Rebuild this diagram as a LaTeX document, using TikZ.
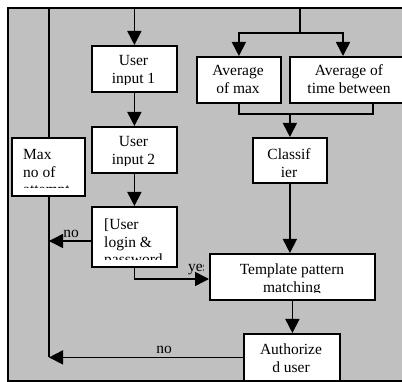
\documentclass[tikz,border=0pt]{standalone}
\usepackage{fontspec}
\setmainfont{Liberation Serif}
\usetikzlibrary{arrows.meta}
\definecolor{bg}{RGB}{192,192,192}
\begin{document}
\begin{tikzpicture}[x=1pt,y=-1pt,
  box/.style={draw, fill=white, line width=1.8pt, inner sep=0pt, anchor=north west},
  conn/.style={line width=1.6pt},
  arr/.style={conn, -{Triangle[length=14pt,width=14pt]}},
  txt/.style={font=\fontsize{15.5}{17.7}\selectfont, inner sep=0pt, anchor=base, align=center},
  ltxt/.style={txt, align=left, anchor=base west},
  lbl/.style={font=\fontsize{15.5}{17.7}\selectfont, inner sep=0pt, anchor=base}]
\useasboundingbox (0,0) rectangle (402,382);
\draw[fill=bg, line width=1.2pt] (8,8) rectangle (412,381);

% boxes
\node[box, minimum width=85pt, minimum height=46pt] (ui1) at (91,45) {};
\node[box, minimum width=85pt, minimum height=46pt] (ui2) at (91,126) {};
\node[box, minimum width=73pt, minimum height=58pt] (max) at (11,137.5) {};
\node[box, minimum width=85pt, minimum height=60pt] (login) at (91,206) {};
\node[box, minimum width=84pt, minimum height=46pt] (avgmax) at (196,56) {};
\node[box, minimum width=120pt, minimum height=46pt] (avgtime) at (289,56) {};
\node[box, minimum width=74pt, minimum height=45pt] (cls) at (252,137) {};
\node[box, minimum width=165pt, minimum height=46pt] (tpm) at (209,253) {};
\node[box, minimum width=96pt, minimum height=47pt] (auth) at (243,333) {};

% texts (anchor = baseline of the last line)
\begin{scope}
\clip (93,47) rectangle (173,85);
\node[txt] (t-ui1) at (133.5,83.5) {User\\input 1};
\end{scope}
\begin{scope}
\clip (93,128) rectangle (173,166);
\node[txt] (t-ui2) at (133.5,164.5) {User\\input 2};
\end{scope}
\begin{scope}
\clip (13,139) rectangle (82,188);
\node[ltxt] (t-max) at (23,195) {Max\\no of\\attempt};
\end{scope}
\begin{scope}
\clip (93,208) rectangle (173,259.5);
\node[ltxt] (t-login) at (104,264.8) {[User\\login \&\\password};
\end{scope}
\node[txt] (t-avgmax) at (238,93.5) {Average\\of max};
\node[txt] (t-avgtime) at (349,93.5) {Average of\\time between};
\node[txt] (t-cls) at (289,177.5) {Classif\\ier};
\begin{scope}
\clip (211,255) rectangle (372,293);
\node[txt] (t-tpm) at (292,292.5) {Template pattern\\matching};
\end{scope}
\node[txt] (t-auth) at (291,372.5) {Authorize\\d user};

% coordinates
\coordinate (vl) at (49,0);
\coordinate (tr) at (300,8);
\coordinate (sp) at (300,33);
\coordinate (atin) at (343,56);
\coordinate (mr) at (373,114);
\coordinate (lno) at (91,241);
\coordinate (ty) at (209,279);

% connectors
\draw[conn] (max.north -| vl) |- (tr) -- (sp);
\draw[arr] (sp) -| (avgmax.north);
\draw[arr] (sp) -| (atin);
\draw[arr] (ui1.north |- tr) -- (ui1.north);
\draw[arr] (ui1.south) -- (ui2.north);
\draw[arr] (ui2.south) -- (login.north);
\draw[conn] (avgmax.south) |- (mr) -- (mr |- avgtime.south);
\draw[arr] (cls.north |- mr) -- (cls.north);
\draw[arr] (cls.south) -- (cls.south |- tpm.north);
\draw[arr] (tpm.south) -- (tpm.south |- auth.north);
\draw[arr] (lno) -- (lno -| vl);
\draw[conn] (max.south -| vl) -- (vl |- auth.west);
\draw[arr] (auth.west) -- (auth.west -| vl);
\draw[arr] (login.south) |- (ty);

% labels
\node[lbl] (no1) at (71,238) {no};
\node[lbl] (no2) at (164,354) {no};
\begin{scope}
\clip (180,255) rectangle (203,290);
\node[lbl, anchor=base west] (yes) at (188,272) {yes};
\end{scope}
\end{tikzpicture}
\end{document}
